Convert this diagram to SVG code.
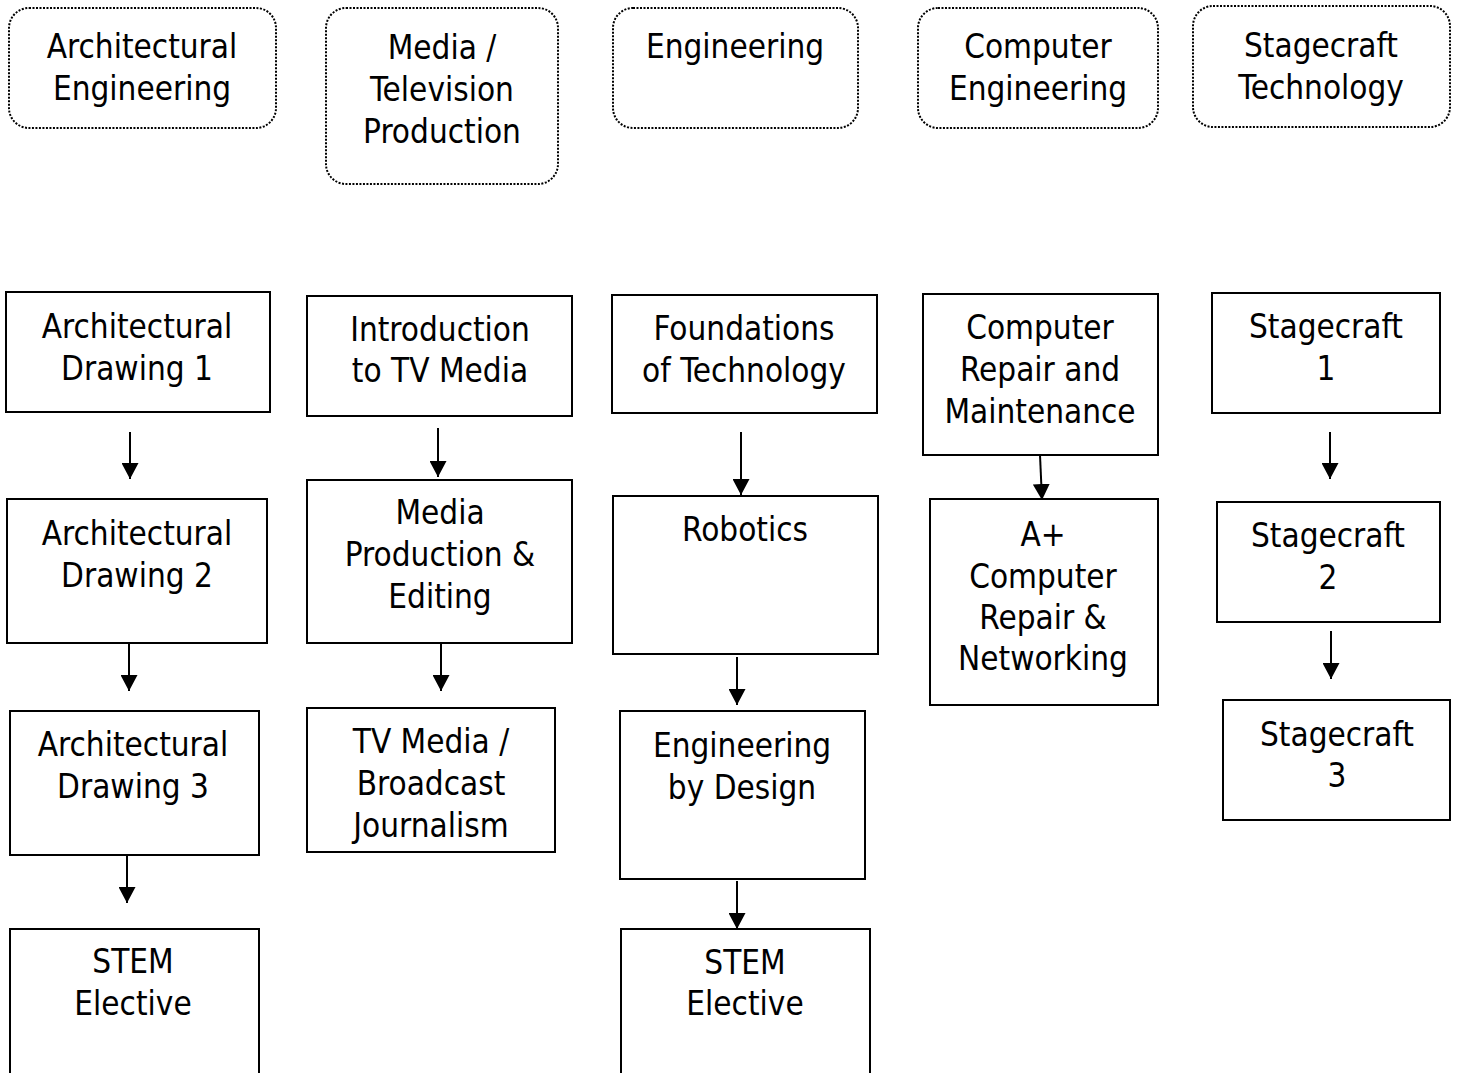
<svg xmlns="http://www.w3.org/2000/svg" width="1458" height="1073" viewBox="0 0 1458 1073">
<defs>
<style>
.t{font-family:"DejaVu Sans Condensed","DejaVu Sans","Liberation Sans",sans-serif;font-size:33px;fill:#000;text-anchor:middle}
.r{fill:#fff;stroke:#000;stroke-width:2}
.d{fill:#fff;stroke:#000;stroke-width:2;stroke-dasharray:2 1.5}
.c{stroke:#000;stroke-width:2;fill:none}
</style>
<marker id="ah" markerWidth="16" markerHeight="17" refX="16" refY="8.5" orient="auto" markerUnits="userSpaceOnUse">
<path d="M0,0 L16,8.5 L0,17 Z" fill="#000"/>
</marker>
</defs>
<rect width="1458" height="1073" fill="#fff"/>
<g id="h1"><rect class="d" x="9" y="8" width="267" height="120" rx="20"/><text class="t" x="142" y="58">Architectural</text><text class="t" x="142" y="100">Engineering</text></g>
<g id="h2"><rect class="d" x="326" y="8" width="232" height="176" rx="20"/><text class="t" x="442" y="59">Media /</text><text class="t" x="442" y="101">Television</text><text class="t" x="442" y="143">Production</text></g>
<g id="h3"><rect class="d" x="613" y="8" width="245" height="120" rx="20"/><text class="t" x="735" y="58">Engineering</text></g>
<g id="h4"><rect class="d" x="918" y="8" width="240" height="120" rx="20"/><text class="t" x="1038" y="58">Computer</text><text class="t" x="1038" y="100">Engineering</text></g>
<g id="h5"><rect class="d" x="1193" y="6" width="257" height="121" rx="20"/><text class="t" x="1321" y="57">Stagecraft</text><text class="t" x="1321" y="99">Technology</text></g>

<g id="a1"><rect class="r" x="6" y="292" width="264" height="120"/><text class="t" x="137" y="338">Architectural</text><text class="t" x="137" y="380">Drawing 1</text></g>
<g id="a2"><rect class="r" x="7" y="499" width="260" height="144"/><text class="t" x="137" y="545">Architectural</text><text class="t" x="137" y="587">Drawing 2</text></g>
<g id="a3"><rect class="r" x="10" y="711" width="249" height="144"/><text class="t" x="133" y="756">Architectural</text><text class="t" x="133" y="798">Drawing 3</text></g>
<g id="a4"><rect class="r" x="10" y="929" width="249" height="150"/><text class="t" x="133" y="973">STEM</text><text class="t" x="133" y="1015">Elective</text></g>

<g id="m1"><rect class="r" x="307" y="296" width="265" height="120"/><text class="t" x="440" y="341">Introduction</text><text class="t" x="440" y="382">to TV Media</text></g>
<g id="m2"><rect class="r" x="307" y="480" width="265" height="163"/><text class="t" x="440" y="524">Media</text><text class="t" x="440" y="566">Production &amp;</text><text class="t" x="440" y="608">Editing</text></g>
<g id="m3"><rect class="r" x="307" y="708" width="248" height="144"/><text class="t" x="431" y="753">TV Media /</text><text class="t" x="431" y="795">Broadcast</text><text class="t" x="431" y="837">Journalism</text></g>

<g id="e1"><rect class="r" x="612" y="295" width="265" height="118"/><text class="t" x="744" y="340">Foundations</text><text class="t" x="744" y="382">of Technology</text></g>
<g id="e2"><rect class="r" x="613" y="496" width="265" height="158"/><text class="t" x="745" y="541">Robotics</text></g>
<g id="e3"><rect class="r" x="620" y="711" width="245" height="168"/><text class="t" x="742" y="757">Engineering</text><text class="t" x="742" y="799">by Design</text></g>
<g id="e4"><rect class="r" x="621" y="929" width="249" height="150"/><text class="t" x="745" y="974">STEM</text><text class="t" x="745" y="1015">Elective</text></g>

<g id="c1"><rect class="r" x="923" y="294" width="235" height="161"/><text class="t" x="1040" y="339">Computer</text><text class="t" x="1040" y="381">Repair and</text><text class="t" x="1040" y="423">Maintenance</text></g>
<g id="c2"><rect class="r" x="930" y="499" width="228" height="206"/><text class="t" x="1043" y="546">A+</text><text class="t" x="1043" y="588">Computer</text><text class="t" x="1043" y="629">Repair &amp;</text><text class="t" x="1043" y="670">Networking</text></g>

<g id="s1"><rect class="r" x="1212" y="293" width="228" height="120"/><text class="t" x="1326" y="338">Stagecraft</text><text class="t" x="1326" y="380">1</text></g>
<g id="s2"><rect class="r" x="1217" y="502" width="223" height="120"/><text class="t" x="1328" y="547">Stagecraft</text><text class="t" x="1328" y="589">2</text></g>
<g id="s3"><rect class="r" x="1223" y="700" width="227" height="120"/><text class="t" x="1337" y="746">Stagecraft</text><text class="t" x="1337" y="787">3</text></g>

<g id="connectors">
<line class="c" x1="130" y1="432" x2="130" y2="479" marker-end="url(#ah)"/>
<line class="c" x1="129" y1="644" x2="129" y2="691" marker-end="url(#ah)"/>
<line class="c" x1="127" y1="856" x2="127" y2="903" marker-end="url(#ah)"/>
<line class="c" x1="438" y1="428" x2="438" y2="477" marker-end="url(#ah)"/>
<line class="c" x1="441" y1="644" x2="441" y2="691" marker-end="url(#ah)"/>
<line class="c" x1="741" y1="432" x2="741" y2="495" marker-end="url(#ah)"/>
<line class="c" x1="737" y1="657" x2="737" y2="705" marker-end="url(#ah)"/>
<line class="c" x1="737" y1="881" x2="737" y2="929" marker-end="url(#ah)"/>
<line class="c" x1="1040" y1="455" x2="1042" y2="500" marker-end="url(#ah)"/>
<line class="c" x1="1330" y1="432" x2="1330" y2="479" marker-end="url(#ah)"/>
<line class="c" x1="1331" y1="631" x2="1331" y2="679" marker-end="url(#ah)"/>
</g>
</svg>
